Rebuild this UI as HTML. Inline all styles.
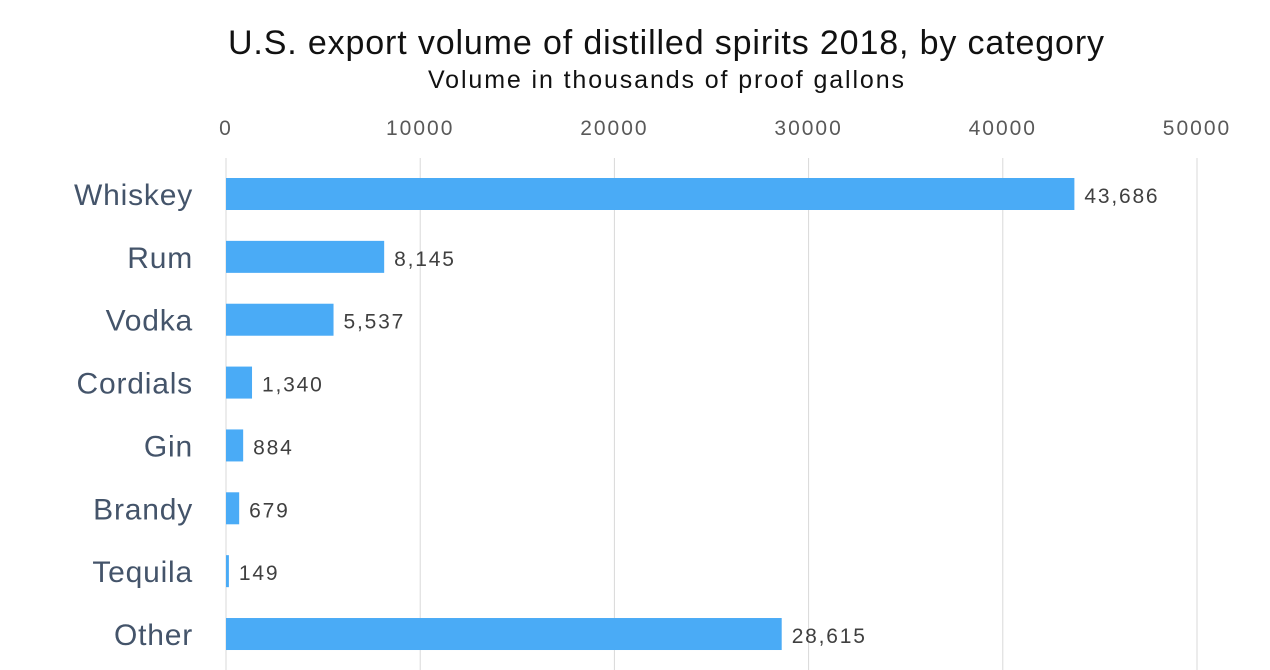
<!DOCTYPE html>
<html><head><meta charset="utf-8"><style>
html,body{margin:0;padding:0;background:#fff;}
svg{display:block;font-family:"Liberation Sans",sans-serif;}
</style></head><body>
<svg id="chart" width="1270" height="670">
<text x="666" y="54" text-anchor="middle" font-size="34" textLength="876" lengthAdjust="spacing" fill="#111">U.S. export volume of distilled spirits 2018, by category</text>
<text x="666" y="88" text-anchor="middle" font-size="25" textLength="476" lengthAdjust="spacing" fill="#111">Volume in thousands of proof gallons</text>
<g id="grid"></g><g id="bars"></g>
</svg>
<script>
const categories=["Whiskey","Rum","Vodka","Cordials","Gin","Brandy","Tequila","Other"];
const values=[43686,8145,5537,1340,884,679,149,28615];
const valueLabels=["43,686","8,145","5,537","1,340","884","679","149","28,615"];
const ticks=[0,10000,20000,30000,40000,50000];
const NS="http://www.w3.org/2000/svg";
const x0=226,x1=1197,maxV=50000;
const xs=v=>x0+(x1-x0)*v/maxV;
const rowY=i=>194+i*62.86;
const grid=document.getElementById('grid'),bars=document.getElementById('bars');
function mk(tag,attrs,parent,text){const e=document.createElementNS(NS,tag);for(const k in attrs)e.setAttribute(k,attrs[k]);if(text!==undefined)e.textContent=text;parent.appendChild(e);return e;}
ticks.forEach(t=>{
  const l=mk('line',{x1:xs(t),x2:xs(t),y1:158,y2:670,stroke:'#d9d9d9','stroke-width':1},grid);
  
  
  const tx=mk('text',{x:xs(t),y:135,'text-anchor':'middle','font-size':21,'letter-spacing':2,fill:'#595959'},grid,String(t));
  
  
});
categories.forEach((c,i)=>{
  const y=rowY(i);
  const lab=mk('text',{x:193,y:y+11,'text-anchor':'end','font-size':30,'letter-spacing':0.8,fill:'#44546a'},bars,c);
  
  
  const w=Math.max(xs(values[i])-x0,1.5);
  const r=mk('rect',{x:x0,y:y-16,width:w,height:32,fill:'#4aabf6'},bars);
  
  
  const v=mk('text',{x:x0+w+10,y:y+9,'font-size':21,'letter-spacing':1.8,fill:'#404040'},bars,valueLabels[i]);
  
  
});
</script>
</body></html>
